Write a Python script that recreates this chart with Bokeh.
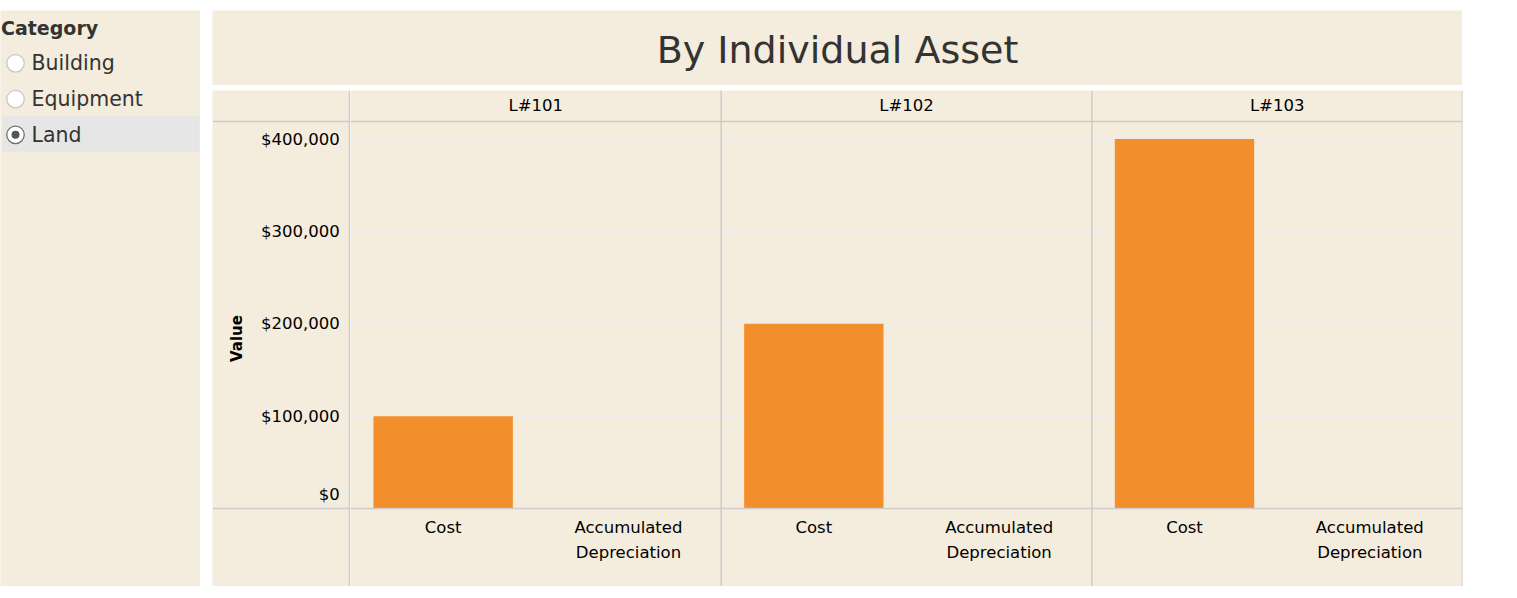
from bokeh.plotting import figure
from bokeh.models import (FactorRange, Range1d, FixedTicker, NumeralTickFormatter,
                          CategoricalAxis, LinearAxis, Span, ColumnDataSource, Grid)
from bokeh.layouts import row, column
from bokeh.embed import file_html
from bokeh.resources import INLINE
from bokeh.core.properties import value

# ---------------- data ----------------
title_text = "By Individual Asset"
filter_title = "Category"
filter_options = ["Building", "Equipment", "Land"]
filter_selected = "Land"
assets = ["L#101", "L#102", "L#103"]
measures = ["Cost", "Accumulated\nDepreciation"]
cost = [100000, 200000, 400000]
acc_dep = [0, 0, 0]
y_ticks = [0, 100000, 200000, 300000, 400000]
y_axis_title = "Value"
y_max = 419000

# ---------------- styles ----------------
FONT = "DejaVu Sans"
BG = "#F4ECDC"
LINE = "#CCCCCC"
GRID = "#EDEDED"
BAR = "#F28E2B"
TXT = "#000000"
LBL = "16.5px"

HEAD, DATA, BOT, LEFT, PLOTW = 31, 387, 78, 138, 1112
PH = HEAD + DATA + BOT
per_px = y_max / DATA
y_lo = -BOT * per_px
y_hi = y_max + HEAD * per_px
yr = Range1d(y_lo, y_hi)
fmt = NumeralTickFormatter(format="$0,0")


def blank(fig):
    fig.background_fill_color = BG
    fig.border_fill_color = BG
    fig.outline_line_color = None
    fig.xgrid.visible = False
    fig.ygrid.visible = False


# ---------------- chart: axis column ----------------
ax = figure(width=LEFT, height=PH, x_range=Range1d(0, LEFT), y_range=yr,
            output_backend="svg", toolbar_location=None,
            x_axis_location=None, y_axis_location=None, min_border=0)
blank(ax)
shift = 14 * per_px
ax.extra_y_ranges = {"zero": Range1d(y_lo - shift, y_hi - shift)}
edge = LEFT - 0.75

ya = LinearAxis(ticker=FixedTicker(ticks=y_ticks[1:]), formatter=fmt,
                axis_label=y_axis_title, fixed_location=edge)
ya.axis_line_color = LINE
ya.axis_line_width = 1.5
ya.major_tick_line_color = None
ya.minor_tick_line_color = None
ya.major_label_text_font = FONT
ya.major_label_text_font_size = LBL
ya.major_label_text_color = TXT
ya.major_label_standoff = 4
ya.axis_label_text_font = FONT
ya.axis_label_text_font_size = "15px"
ya.axis_label_text_font_style = "bold"
ya.axis_label_text_color = TXT
ya.axis_label_standoff = 12
ax.add_layout(ya, "left")

yb = LinearAxis(y_range_name="zero", ticker=FixedTicker(ticks=y_ticks[:1]), formatter=fmt,
                fixed_location=edge)
yb.axis_line_color = None
yb.major_tick_line_color = None
yb.minor_tick_line_color = None
yb.major_label_text_font = FONT
yb.major_label_text_font_size = LBL
yb.major_label_text_color = TXT
yb.major_label_standoff = 4
ax.add_layout(yb, "left")

for loc in (y_ticks[0], y_max):
    ax.add_layout(Span(location=loc, dimension="width", line_color=LINE, line_width=1.5))

# ---------------- chart: bars ----------------
factors = [(a, m) for a in assets for m in measures]
tops = [v for pair in zip(cost, acc_dep) for v in pair]
src = ColumnDataSource(dict(x=factors, top=tops))

p = figure(width=PLOTW + 1, height=PH,
           x_range=FactorRange(*factors, factor_padding=0, group_padding=0, range_padding=0),
           y_range=yr, output_backend="svg", toolbar_location=None,
           x_axis_location=None, y_axis_location=None,
           min_border_left=0, min_border_right=1, min_border_top=0, min_border_bottom=0)
blank(p)
p.extra_x_ranges = {"asset": FactorRange(*assets, range_padding=0)}

p.add_layout(Grid(dimension=1, ticker=FixedTicker(ticks=y_ticks[1:]),
                  grid_line_color=GRID, grid_line_width=2))

p.vbar(x="x", top="top", width=0.752, source=src, fill_color=BAR, line_color=None)

# dividers between asset panes (synthetic coordinates of the asset range)
for i in range(1, len(assets) + 1):
    p.add_layout(Span(location=i, dimension="height", x_range_name="asset",
                      line_color=LINE, line_width=1.5))

xa = CategoricalAxis(x_range_name="asset", fixed_location=y_max)
xa.axis_line_color = LINE
xa.axis_line_width = 1.5
xa.major_tick_line_color = None
xa.major_label_standoff = 1
xa.major_label_text_font = FONT
xa.major_label_text_font_size = LBL
xa.major_label_text_color = TXT
p.add_layout(xa, "above")

xb = CategoricalAxis(fixed_location=0)
xb.axis_line_color = LINE
xb.axis_line_width = 1.5
xb.major_tick_line_color = None
xb.separator_line_alpha = 0
xb.group_text_alpha = 0
xb.major_label_standoff = 3
xb.major_label_text_font = FONT
xb.major_label_text_font_size = LBL
xb.major_label_text_color = TXT
xb.major_label_text_line_height = 1.33
p.add_layout(xb, "below")

# ---------------- title panel ----------------
TW, TH = LEFT + PLOTW, 75
t = figure(width=TW, height=TH, x_range=Range1d(0, TW), y_range=Range1d(TH, 0),
           output_backend="svg", toolbar_location=None,
           x_axis_location=None, y_axis_location=None, min_border=0)
blank(t)
t.text(x=[TW / 2], y=[39.2], text=[title_text], text_align="center",
       text_baseline="middle", text_font=value(FONT), text_font_size="38px",
       text_color="#333333")

# ---------------- filter panel ----------------
LW, LH = 200, TH + 5 + PH
lp = figure(width=LW, height=LH, x_range=Range1d(0, LW), y_range=Range1d(LH, 0),
            output_backend="svg", toolbar_location=None,
            x_axis_location=None, y_axis_location=None, min_border=0)
blank(lp)

sel = filter_options.index(filter_selected)
row0, row_h = 52.8, 35.75
ys = [row0 + i * row_h for i in range(len(filter_options))]
lp.quad(left=[2], right=[199], top=[ys[sel] - 19], bottom=[ys[sel] + 17],
        fill_color="#E6E6E6", line_color=None)
lp.text(x=[0.5], y=[17.8], text=[filter_title], text_baseline="middle",
        text_font=value(FONT), text_font_size="19px", text_font_style="bold",
        text_color="#333333")
lp.text(x=[31] * len(ys), y=ys, text=filter_options,
        text_baseline="middle", text_font=value(FONT), text_font_size="20.5px",
        text_color="#333333")
ring = ["#6E6E6E" if i == sel else "#C8C8C8" for i in range(len(ys))]
lp.scatter(x=[15] * len(ys), y=ys, size=17.5, marker="circle", fill_color="white",
           line_color=ring, line_width=1.3)
lp.scatter(x=[15], y=[ys[sel]], size=8, marker="circle", fill_color="#555555",
           line_color=None)

layout = row(lp, column(t, row(ax, p, spacing=0), spacing=5), spacing=12,
             margin=(10, 0, 0, 0))
open("out.html", "w").write(file_html(layout, INLINE))
